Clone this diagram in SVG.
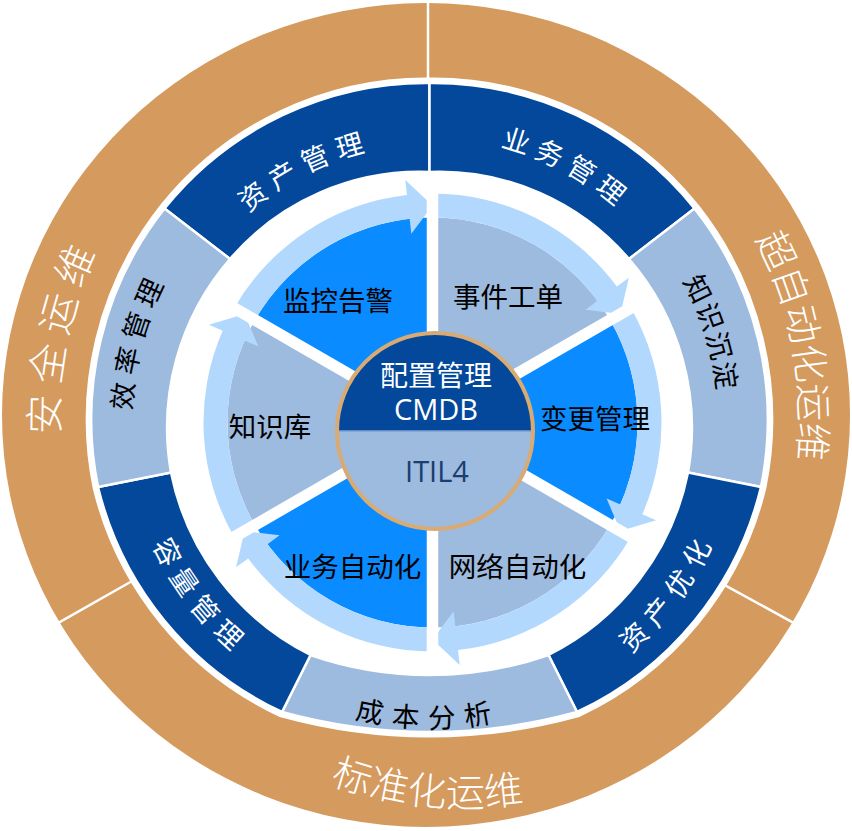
<svg xmlns="http://www.w3.org/2000/svg" width="852" height="831" viewBox="0 0 852 831">
<style>
.or{fill:#D49A5E}
.dk{fill:#03489B}
.st{fill:#9DBADF}
.br{fill:#0A8BFF}
.ar{fill:#B3D8FE}
.seg{stroke:#fff;stroke-width:2.5;stroke-linejoin:miter}
.gap{stroke:#fff;stroke-width:11.5;stroke-linecap:butt}
.div{stroke:#fff;stroke-width:2.5}
text{font-family:"Noto Sans CJK SC","Noto Sans",sans-serif}
.lat{font-family:"Open Sans","DejaVu Sans",sans-serif}
.wt{fill:#fff}
.bk{fill:#000}
.ring{font-size:27.5px}
.big{font-size:40px;font-weight:300}
.pie{font-size:27.5px;text-anchor:middle}
</style>
<defs>
<path id="p-zcgl" d="M155.8,409.4 A276.4,276.4 0 0 1 579.3,186.1"/>
<path id="p-ywgl" d="M280.0,183.2 A281.4,281.4 0 0 1 713.1,406.7"/>
<path id="p-zscd" d="M494.0,140.4 A286.4,286.4 0 0 1 643.2,613.5"/>
<path id="p-xlgl" d="M222.5,634.7 A300,300 0 0 1 350.8,131.2"/>
<path id="p-zcyh" d="M395.2,724.4 A306.6,306.6 0 0 0 714.0,299.7"/>
<path id="p-cbfx" d="M161.1,566.5 A308,308 0 0 0 694.3,581.4"/>
<path id="p-rlgl" d="M151.4,298.0 A306,306 0 0 0 466.6,724.0"/>
<path id="p-aqyw" d="M183.6,691.2 A368.8,368.8 0 0 1 311.0,65.3"/>
<path id="p-czd" d="M550.8,64.3 A371.6,371.6 0 0 1 670.3,696.7"/>
<path id="p-bzh" d="M105.7,574.3 A390.8,390.8 0 0 0 778.8,646.3"/>
</defs>

<g id="outer-ring">
<ellipse class="or" cx="426" cy="415" rx="424" ry="412"/>
<path fill="#fff" stroke="#fff" stroke-width="11" d="M429.5,83 A335,335 0 0 1 694.5,208.5 A340,340 0 0 1 761,487 A335,335 0 0 1 577,712 A554,554 0 0 1 282,712 A335,335 0 0 1 98,487 A340,340 0 0 1 164.5,208.5 A335,335 0 0 1 429.5,83 Z"/>
<line class="div" x1="428" y1="0" x2="428" y2="82"/>
<line class="div" x1="51.3" y1="626.9" x2="131.3" y2="581.5"/>
<line class="div" x1="725.6" y1="585.6" x2="800.8" y2="626.8"/>
</g>

<g id="node-aqyw"><text class="wt big" letter-spacing="9"><textPath href="#p-aqyw" startOffset="390.7" text-anchor="middle">安全运维</textPath></text></g>
<g id="node-czdhyw"><text class="wt big" style="font-size:38px"><textPath href="#p-czd" startOffset="389.1" text-anchor="middle">超自动化运维</textPath></text></g>
<g id="node-bzhyw"><text class="wt big" style="font-size:39px" letter-spacing="0.5"><textPath href="#p-bzh" startOffset="414" text-anchor="middle">标准化运维</textPath></text></g>

<g id="node-zcgl">
<path class="dk seg" d="M164.5,208.5 A335,335 0 0 1 429.5,83 L429.5,172 A250,250 0 0 0 230,259 Z"/>
<text class="wt ring" letter-spacing="7.8"><textPath href="#p-zcgl" startOffset="293.4" text-anchor="middle">资产管理</textPath></text>
</g>
<g id="node-ywgl">
<path class="dk seg" d="M429.5,83 A335,335 0 0 1 694.5,208.5 L629,259 A250,250 0 0 0 429.5,172 Z"/>
<text class="wt ring" letter-spacing="7"><textPath href="#p-ywgl" startOffset="298.2" text-anchor="middle">业务管理</textPath></text>
</g>
<g id="node-zscd">
<path class="st seg" d="M694.5,208.5 A340,340 0 0 1 761,487 L688,472.5 A258,258 0 0 0 629,259 Z"/>
<text class="bk ring" letter-spacing="1.8"><textPath href="#p-zscd" startOffset="300.9" text-anchor="middle">知识沉淀</textPath></text>
</g>
<g id="node-zcyh">
<path class="dk seg" d="M761,487 A335,335 0 0 1 577,712 L548.5,655 A262,262 0 0 0 688,472.5 Z"/>
<text class="wt ring" letter-spacing="8.7"><textPath href="#p-zcyh" startOffset="325.5" text-anchor="middle">资产优化</textPath></text>
</g>
<g id="node-cbfx">
<path class="st seg" d="M577,712 A554,554 0 0 1 282,712 L310.5,655 A364,364 0 0 0 548.5,655 Z"/>
<text class="bk ring" letter-spacing="9.8"><textPath href="#p-cbfx" startOffset="327.5" text-anchor="middle">成本分析</textPath></text>
</g>
<g id="node-rlgl">
<path class="dk seg" d="M282,712 A335,335 0 0 1 98,487 L171,472.5 A262,262 0 0 0 310.5,655 Z"/>
<text class="wt ring" letter-spacing="8.1"><textPath href="#p-rlgl" startOffset="324.5" text-anchor="middle">容量管理</textPath></text>
</g>
<g id="node-xlgl">
<path class="st seg" d="M98,487 A340,340 0 0 1 164.5,208.5 L230,259 A258,258 0 0 0 171,472.5 Z"/>
<text class="bk ring" letter-spacing="6.9"><textPath href="#p-xlgl" startOffset="317.6" text-anchor="middle">效率管理</textPath></text>
</g>

<g id="pie">
<path class="br" d="M432.5,422.5 L254.96,320 A205,205 0 0 1 432.5,217.5 Z"/>
<path class="st" d="M432.5,422.5 L432.5,217.5 A205,205 0 0 1 610.04,320 Z"/>
<path class="br" d="M432.5,422.5 L610.04,320 A205,205 0 0 1 610.04,525 Z"/>
<path class="st" d="M432.5,422.5 L610.04,525 A205,205 0 0 1 432.5,627.5 Z"/>
<path class="br" d="M432.5,422.5 L432.5,627.5 A205,205 0 0 1 254.96,525 Z"/>
<path class="st" d="M432.5,422.5 L254.96,525 A205,205 0 0 1 254.96,320 Z"/>
</g>

<g id="connectors">
<path class="ar" d="M234.18,308 A229,229 0 0 1 406.97,194.93 L405.3,180.02 L432.5,205.5 L411.32,233.68 L409.65,218.78 A205,205 0 0 0 254.96,320 Z"/>
<path class="ar" d="M432.5,193.5 A229,229 0 0 1 616.82,286.61 L628.89,277.71 L620.43,314 L585.43,309.75 L597.5,300.85 A205,205 0 0 0 432.5,217.5 Z"/>
<path class="ar" d="M630.82,308 A229,229 0 0 1 642.35,514.18 L656.09,520.19 L620.43,531 L606.61,498.57 L620.35,504.57 A205,205 0 0 0 610.04,320 Z"/>
<path class="ar" d="M630.82,537 A229,229 0 0 1 458.03,650.07 L459.7,664.98 L432.5,639.5 L453.68,611.32 L455.35,626.22 A205,205 0 0 0 610.04,525 Z"/>
<path class="ar" d="M432.5,651.5 A229,229 0 0 1 248.18,558.39 L236.11,567.29 L244.57,531 L279.57,535.25 L267.5,544.15 A205,205 0 0 0 432.5,627.5 Z"/>
<path class="ar" d="M234.18,537 A229,229 0 0 1 222.65,330.82 L208.91,324.81 L244.57,314 L258.39,346.43 L244.65,340.43 A205,205 0 0 0 254.96,525 Z"/>
<g class="gap">
<line x1="432.5" y1="422.5" x2="432.5" y2="177.5"/>
<line x1="432.5" y1="422.5" x2="644.7" y2="300"/>
<line x1="432.5" y1="422.5" x2="644.7" y2="545"/>
<line x1="432.5" y1="422.5" x2="432.5" y2="667.5"/>
<line x1="432.5" y1="422.5" x2="220.3" y2="545"/>
<line x1="432.5" y1="422.5" x2="220.3" y2="300"/>
</g>
</g>

<g id="node-jkgj"><text class="bk pie" x="338" y="310.5">监控告警</text></g>
<g id="node-sjgd"><text class="bk pie" x="508" y="306.5">事件工单</text></g>
<g id="node-bggl"><text class="bk pie" x="595" y="428.5">变更管理</text></g>
<g id="node-wlzdh"><text class="bk pie" x="517.5" y="576.5">网络自动化</text></g>
<g id="node-ywzdh"><text class="bk pie" x="352.5" y="576.5">业务自动化</text></g>
<g id="node-zsk"><text class="bk pie" x="270" y="436.5">知识库</text></g>

<g id="node-center">
<circle cx="435" cy="431" r="98" class="st"/>
<path class="dk" d="M337,431 A98,98 0 0 1 533,431 Z"/>
<line x1="337" y1="431" x2="533" y2="431" stroke="#7FA1D3" stroke-width="1.5"/>
<circle cx="435" cy="431" r="98" fill="none" stroke="#D9AA72" stroke-width="4"/>
<text class="wt" x="436" y="386" font-size="28" text-anchor="middle">配置管理</text>
<text class="wt lat" x="436" y="420" font-size="29" text-anchor="middle">CMDB</text>
<text class="lat" x="437" y="482" font-size="29" text-anchor="middle" fill="#1B3D6F">ITIL4</text>
</g>
</svg>
